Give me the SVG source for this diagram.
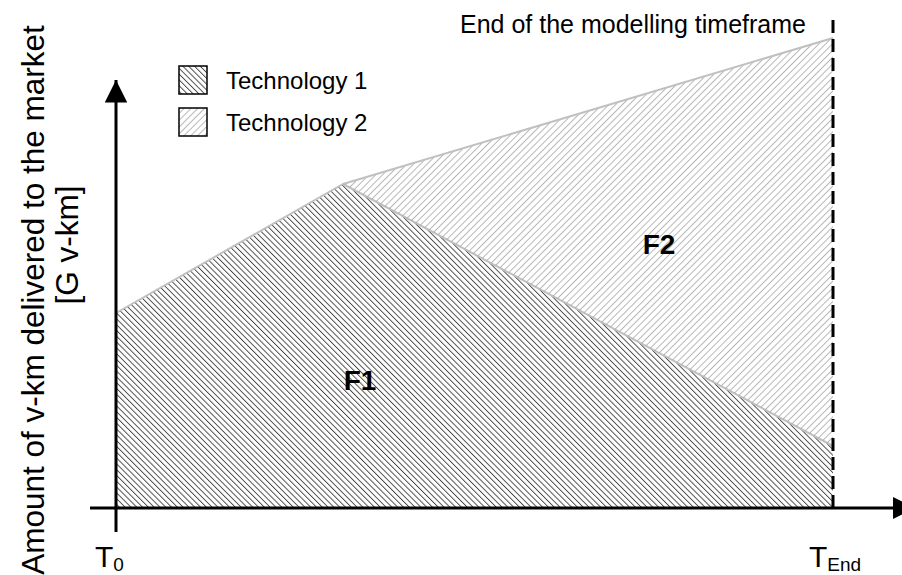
<svg xmlns="http://www.w3.org/2000/svg" width="902" height="575" viewBox="0 0 902 575">
  <style>
    text { font-family: "Liberation Sans", Arial, sans-serif; fill: #000; }
    .lbl { font-size: 24px; }
    .note { font-size: 25px; }
    .ax { font-size: 31.5px; }
    .big { font-size: 28px; font-weight: bold; }
    .edge { fill: none; stroke: #c0c0c0; stroke-width: 2; stroke-linejoin: round; }
    .axis { stroke: #000; stroke-width: 3; fill: none; }
  </style>
  <defs>
    <!-- Technology 1: dense dark back-slash hatch -->
    <pattern id="hatch1" patternUnits="userSpaceOnUse" width="4.1" height="10" patternTransform="rotate(-45)">
      <line x1="0.5" y1="0" x2="0.5" y2="10" stroke="#333" stroke-width="0.85"/>
    </pattern>
    <!-- Technology 2: lighter forward-slash hatch -->
    <pattern id="hatch2" patternUnits="userSpaceOnUse" width="4.8" height="10" patternTransform="rotate(45)">
      <line x1="0.5" y1="0" x2="0.5" y2="10" stroke="#a8a8a8" stroke-width="0.85"/>
    </pattern>
    <marker id="arrow" viewBox="0 0 10 10" refX="10" refY="5" markerWidth="7.5" markerHeight="7.5" markerUnits="strokeWidth" orient="auto">
      <path d="M0,0 L10,5 L0,10 Z" fill="#000"/>
    </marker>
  </defs>

  <!-- stacked areas -->
  <g id="area-tech1">
    <polygon points="116,313 343,184 833,446 833,508 116,508" fill="url(#hatch1)"/>
    <polyline class="edge" points="116,313 343,184 833,446"/>
  </g>
  <g id="area-tech2">
    <polygon points="343,184 833,38 833,446" fill="url(#hatch2)"/>
    <polyline class="edge" points="343,184 833,38"/>
  </g>

  <!-- axes and end-of-timeframe marker -->
  <g id="connectors">
    <line class="axis" x1="116" y1="532" x2="116" y2="80" marker-end="url(#arrow)"/>
    <line class="axis" x1="90" y1="508" x2="915" y2="508" marker-end="url(#arrow)"/>
    <line x1="833" y1="20" x2="833" y2="508" stroke="#000" stroke-width="3" stroke-dasharray="13 6"/>
  </g>

  <!-- legend -->
  <g id="legend">
    <rect x="179" y="66" width="28" height="28" fill="url(#hatch1)" stroke="#000" stroke-width="1.5"/>
    <rect x="179" y="108" width="28" height="28" fill="url(#hatch2)" stroke="#000" stroke-width="1.5"/>
    <text class="lbl" x="226" y="89">Technology 1</text>
    <text class="lbl" x="226" y="131">Technology 2</text>
  </g>

  <!-- labels -->
  <g id="labels">
    <text class="note" x="806" y="33" text-anchor="end">End of the modelling timeframe</text>
    <text class="big" x="360" y="390" text-anchor="middle">F1</text>
    <text class="big" x="659" y="254" text-anchor="middle">F2</text>
    <text class="ax" transform="translate(44,300) rotate(-90)" text-anchor="middle">Amount of v-km delivered to the market</text>
    <text class="ax" transform="translate(78,245) rotate(-90)" text-anchor="middle">[G v-km]</text>
    <text x="95" y="567" font-size="30">T<tspan font-size="19" dy="4">0</tspan></text>
    <text x="809" y="567" font-size="30">T<tspan font-size="19" dy="4">End</tspan></text>
  </g>
</svg>
